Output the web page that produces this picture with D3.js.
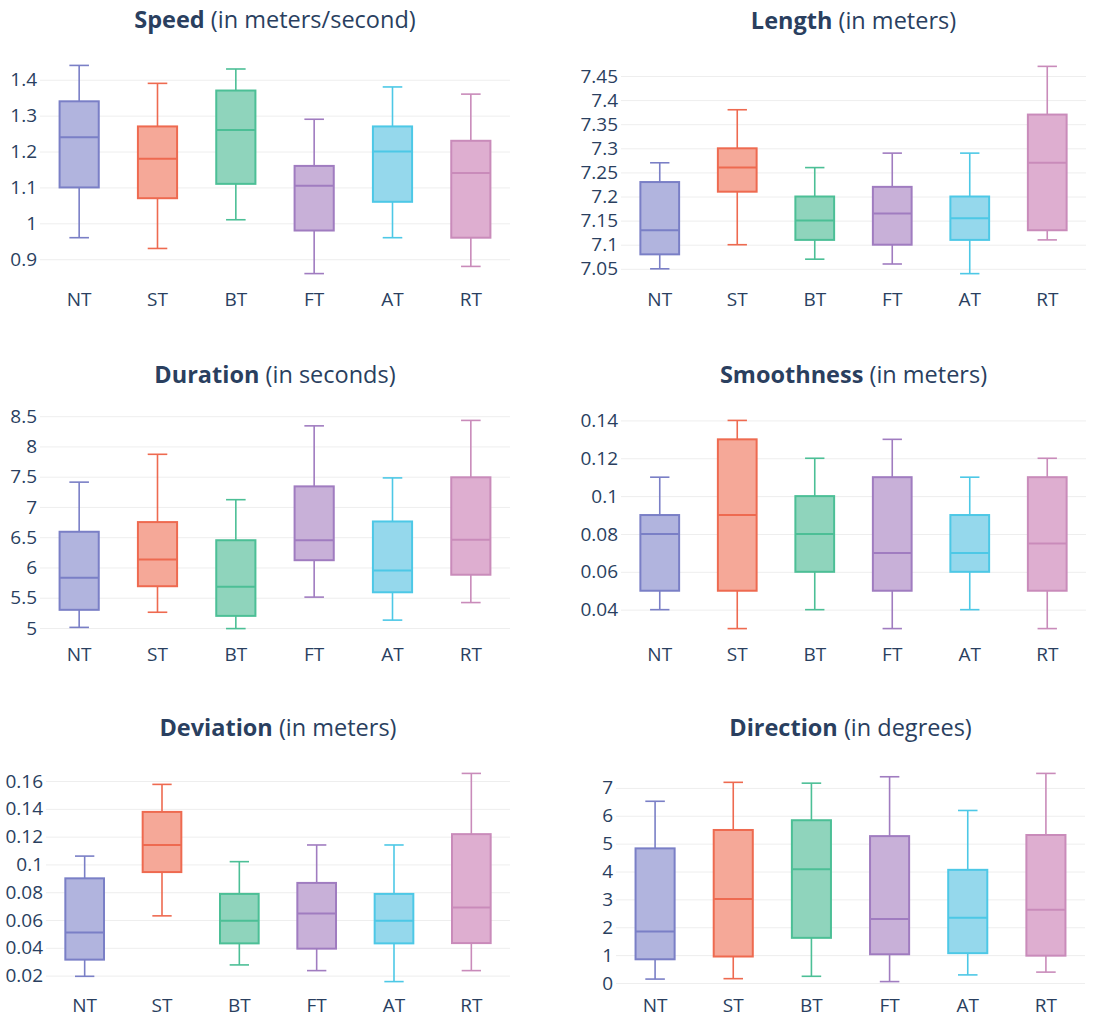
<!DOCTYPE html>
<html>
<head>
<meta charset="utf-8">
<script src="https://cdn.jsdelivr.net/npm/d3@7/dist/d3.min.js"></script>
<style>
  html, body { margin: 0; padding: 0; background: #fff; }
  svg { display: block; font-family: "Open Sans", "Noto Sans", sans-serif; }
</style>
</head>
<body>
<svg id="chart" width="1111" height="1018"></svg>
<script>
// ---- Data ----
const categories = ["NT", "ST", "BT", "FT", "AT", "RT"];

// Each entry: [min, q1, median, q3, max] per category (NT, ST, BT, FT, AT, RT)
const speed = [
  [0.96, 1.10, 1.24, 1.34, 1.44],
  [0.93, 1.07, 1.18, 1.27, 1.39],
  [1.01, 1.11, 1.26, 1.37, 1.43],
  [0.86, 0.98, 1.105, 1.16, 1.29],
  [0.96, 1.06, 1.20, 1.27, 1.38],
  [0.88, 0.96, 1.14, 1.23, 1.36]
];
const length = [
  [7.05, 7.08, 7.13, 7.23, 7.27],
  [7.10, 7.21, 7.26, 7.30, 7.38],
  [7.07, 7.11, 7.15, 7.20, 7.26],
  [7.06, 7.10, 7.165, 7.22, 7.29],
  [7.04, 7.11, 7.155, 7.20, 7.29],
  [7.11, 7.13, 7.27, 7.37, 7.47]
];
const duration = [
  [5.01, 5.30, 5.83, 6.59, 7.41],
  [5.26, 5.69, 6.13, 6.75, 7.87],
  [4.99, 5.20, 5.68, 6.45, 7.12],
  [5.51, 6.12, 6.45, 7.34, 8.34],
  [5.13, 5.59, 5.95, 6.76, 7.48],
  [5.42, 5.88, 6.46, 7.49, 8.43]
];
const smoothness = [
  [0.04, 0.05, 0.08, 0.09, 0.11],
  [0.03, 0.05, 0.09, 0.13, 0.14],
  [0.04, 0.06, 0.08, 0.10, 0.12],
  [0.03, 0.05, 0.07, 0.11, 0.13],
  [0.04, 0.06, 0.07, 0.09, 0.11],
  [0.03, 0.05, 0.075, 0.11, 0.12]
];
const deviation = [
  [0.0195, 0.0315, 0.051, 0.090, 0.106],
  [0.063, 0.0945, 0.114, 0.1378, 0.1576],
  [0.0277, 0.0432, 0.0594, 0.0788, 0.102],
  [0.0236, 0.0394, 0.0647, 0.0867, 0.114],
  [0.0157, 0.0432, 0.0594, 0.0788, 0.114],
  [0.0236, 0.0434, 0.069, 0.1218, 0.1655]
];
const direction = [
  [0.14, 0.85, 1.85, 4.83, 6.52],
  [0.155, 0.95, 3.01, 5.49, 7.20],
  [0.24, 1.62, 4.08, 5.84, 7.17],
  [0.05, 1.03, 2.30, 5.27, 7.40],
  [0.29, 1.07, 2.34, 4.06, 6.19],
  [0.39, 0.98, 2.63, 5.31, 7.52]
];

// Tick values per panel
const speedTicks = [0.9, 1, 1.1, 1.2, 1.3, 1.4];
const lengthTicks = [7.05, 7.1, 7.15, 7.2, 7.25, 7.3, 7.35, 7.4, 7.45];
const durationTicks = [5, 5.5, 6, 6.5, 7, 7.5, 8, 8.5];
const smoothnessTicks = [0.04, 0.06, 0.08, 0.1, 0.12, 0.14];
const deviationTicks = [0.02, 0.04, 0.06, 0.08, 0.1, 0.12, 0.14, 0.16];
const directionTicks = [0, 1, 2, 3, 4, 5, 6, 7];

// Titles
const titleBold = ["Speed", "Length", "Duration", "Smoothness", "Deviation", "Direction"];
const titleUnit = ["(in meters/second)", "(in meters)", "(in seconds)", "(in meters)", "(in meters)", "(in degrees)"];

// Colours per category
const lineColors = ["#7a7fc6", "#ee6a50", "#4cbf96", "#a07cc0", "#4dc8e6", "#c98bba"];
const fillColors = ["#b1b4de", "#f5a898", "#8fd4bc", "#c8b0d8", "#95d8ec", "#deaed0"];

// ---- Layout ----
const panels = [
  { data: speed, ticks: speedTicks, x0: 40, x1: 510, y0: 55, y1: 284, xpad: 9 },
  { data: length, ticks: lengthTicks, x0: 621, x1: 1086, y0: 56, y1: 284, xpad: 9 },
  { data: duration, ticks: durationTicks, x0: 40, x1: 510, y0: 410, y1: 639, xpad: 9 },
  { data: smoothness, ticks: smoothnessTicks, x0: 621, x1: 1086, y0: 410, y1: 639, xpad: 9 },
  { data: deviation, ticks: deviationTicks, x0: 46, x1: 510, y0: 763, y1: 992, xpad: 6 },
  { data: direction, ticks: directionTicks, x0: 616, x1: 1085, y0: 763, y1: 992, xpad: 6 }
];

const textColor = "#2a3f5f";
const svg = d3.select("#chart");

panels.forEach((p, i) => {
  const g = svg.append("g");
  const all = p.data.flat();
  const lo = d3.min(all), hi = d3.max(all);
  const pad = (hi - lo) * 0.05;
  const y = d3.scaleLinear().domain([lo - pad, hi + pad]).range([p.y1, p.y0]);
  const x = d3.scaleBand().domain(categories).range([p.x0, p.x1]).padding(0);

  // Gridlines + y tick labels
  const yAxis = g.append("g")
    .attr("transform", `translate(${p.x0},0)`)
    .call(d3.axisLeft(y).tickValues(p.ticks).tickFormat(d3.format("~g"))
      .tickSize(-(p.x1 - p.x0)).tickPadding(3));
  yAxis.select(".domain").remove();
  yAxis.selectAll(".tick line").attr("stroke", "#eeeeee").attr("stroke-width", 1);
  yAxis.selectAll(".tick text").attr("fill", textColor).style("font-size", "19px")
    .style("font-family", "'Open Sans', sans-serif");

  // X axis labels
  const xAxis = g.append("g")
    .attr("transform", `translate(0,${p.y1})`)
    .call(d3.axisBottom(x).tickSize(0).tickPadding(p.xpad));
  xAxis.select(".domain").remove();
  xAxis.selectAll(".tick text").attr("fill", textColor).style("font-size", "19px")
    .style("font-family", "'Open Sans', sans-serif");

  // Boxes
  const bw = x.bandwidth() * 0.5;
  const cw = bw * 0.5;
  const boxes = g.selectAll(".box").data(p.data).join("g").attr("class", "box");
  boxes.each(function (d, j) {
    const b = d3.select(this);
    const cx = x(categories[j]) + x.bandwidth() / 2;
    const [mn, q1, md, q3, mx] = d;
    // whiskers
    b.append("line").attr("x1", cx).attr("x2", cx).attr("y1", y(q3)).attr("y2", y(mx))
      .attr("stroke", lineColors[j]).attr("stroke-width", 1.6);
    b.append("line").attr("x1", cx).attr("x2", cx).attr("y1", y(q1)).attr("y2", y(mn))
      .attr("stroke", lineColors[j]).attr("stroke-width", 1.6);
    // caps
    b.append("line").attr("x1", cx - cw / 2).attr("x2", cx + cw / 2).attr("y1", y(mx)).attr("y2", y(mx))
      .attr("stroke", lineColors[j]).attr("stroke-width", 1.6);
    b.append("line").attr("x1", cx - cw / 2).attr("x2", cx + cw / 2).attr("y1", y(mn)).attr("y2", y(mn))
      .attr("stroke", lineColors[j]).attr("stroke-width", 1.6);
    // box
    b.append("rect").attr("x", cx - bw / 2).attr("width", bw)
      .attr("y", y(q3)).attr("height", y(q1) - y(q3))
      .attr("fill", fillColors[j]).attr("stroke", lineColors[j]).attr("stroke-width", 2);
    // median
    b.append("line").attr("x1", cx - bw / 2).attr("x2", cx + bw / 2).attr("y1", y(md)).attr("y2", y(md))
      .attr("stroke", lineColors[j]).attr("stroke-width", 2);
  });

  // Title
  const t = g.append("text")
    .attr("x", (p.x0 + p.x1) / 2).attr("y", p.y0 - 27)
    .attr("text-anchor", "middle").attr("fill", textColor)
    .style("font-size", "23.5px").style("font-family", "'Open Sans', sans-serif");
  t.append("tspan").style("font-weight", "700").text(titleBold[i]);
  t.append("tspan").style("font-weight", "400").text(" " + titleUnit[i]);
});
</script>
</body>
</html>
